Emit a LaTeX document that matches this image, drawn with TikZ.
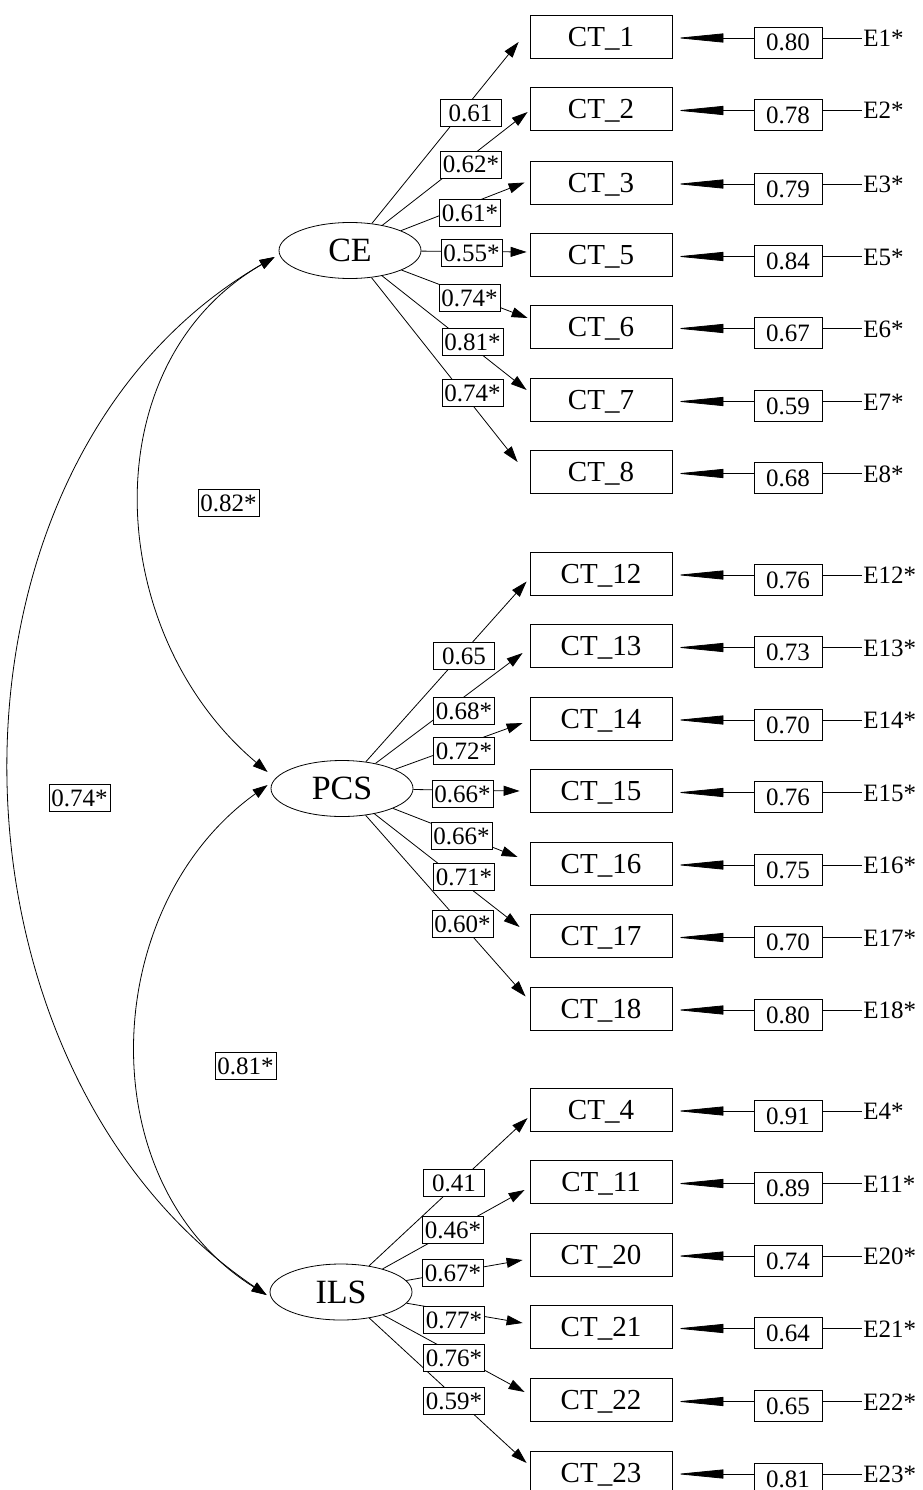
\documentclass[tikz,border=0pt]{standalone}
\usepackage{fontspec}
\setmainfont{Liberation Serif}
\usetikzlibrary{arrows.meta,shapes.geometric,calc}
\begin{document}
\begin{tikzpicture}[x=1pt,y=-1pt,line width=0.8pt,
  lat/.style={draw,ellipse,minimum width=142pt,minimum height=56pt,inner sep=0pt,font=\fontsize{34}{40}\selectfont,text height=22.5pt,text depth=0pt},
  obs/.style={draw,rectangle,minimum width=142pt,minimum height=43pt,inner sep=0pt,font=\fontsize{29}{34}\selectfont,text height=19.2pt,text depth=0pt},
  err/.style={draw,rectangle,minimum width=68pt,minimum height=31pt,inner sep=0pt,font=\fontsize{25}{30}\selectfont,text height=17pt,text depth=0pt},
  coef/.style={draw,fill=white,rectangle,minimum width=61pt,minimum height=27pt,inner sep=1pt,font=\fontsize{25}{30}\selectfont,text height=17pt,text depth=0pt},
  elab/.style={anchor=west,inner sep=1pt,font=\fontsize{25}{30}\selectfont,text height=17pt,text depth=0pt},
  load/.style={-{Triangle[length=16pt,width=10pt]}},
  corr/.style={{Triangle[length=15pt,width=10pt]}-{Triangle[length=15pt,width=10pt]}},
  errarr/.style={-{Triangle[length=47pt,width=9pt]},shorten >=4pt}
]
\useasboundingbox (0,0) rectangle (922,1490);

% latent variables
\node[lat] (CE) at (350,250.5) {CE};
\node[lat] (PCS) at (342,788.5) {PCS};
\node[lat] (ILS) at (341,1292) {ILS};

% observed variables with errors
\foreach \k/\y/\ev in {1/36.5/0.80, 2/109/0.78, 3/182.5/0.79, 5/255/0.84, 6/327/0.67, 7/400/0.59, 8/472/0.68,
  12/573.5/0.76, 13/646/0.73, 14/718.5/0.70, 15/791/0.76, 16/863.5/0.75, 17/936/0.70, 18/1008.5/0.80,
  4/1109.5/0.91, 11/1182/0.89, 20/1254.5/0.74, 21/1327/0.64, 22/1400/0.65, 23/1472.5/0.81}{
  \node[obs] (ct\k) at (601,\y) {CT\_\k};
  \node[err] (e\k) at (788,{\y+6}) {\ev};
  \node[elab] (E\k) at (862,{\y+1.5}) {E\k*};
  \draw[errarr] (e\k.west |- E\k.west) -- (ct\k.east |- E\k.west);
  \draw (e\k.east |- E\k.west) -- (E\k.west);
}

% loadings
\foreach \lat/\k/\dx/\dy in {CE/1/-11/5.5, CE/2/-2/3, CE/3/-5/0, CE/5/-3/-3, CE/6/-2/-9, CE/7/-3/-10, CE/8/-12/-10,
  PCS/12/-3/8, PCS/13/-7/7, PCS/14/-7/4.5, PCS/15/-10/0, PCS/16/-12/-6.5, PCS/17/-10/-9, PCS/18/-4/-12,
  ILS/4/-2/8.5, ILS/11/-5/8, ILS/20/-7/5.5, ILS/21/-7/-4, ILS/22/-5/-8, ILS/23/-3/-9.5}{
  \draw[load] (\lat) -- ($(ct\k.west)+(\dx,\dy)$);
}

% correlations
\coordinate (ceT) at ($(CE.west)+(-4,6.5)$);
\coordinate (pcsA) at ($(PCS.west)+(-3,-16.5)$);
\coordinate (pcsB) at ($(PCS.west)+(-3,-3.5)$);
\coordinate (ilsT) at ($(ILS.west)+(-3,3)$);
\draw[corr] (ceT) .. controls +(-185,107) and +(-164,-138) .. (pcsA);
\draw[corr] (ceT) .. controls +(-355,205) and +(-340,-230) .. (ilsT);
\draw[corr] (pcsB) .. controls +(-170,122) and +(-178,-111) .. (ilsT);

% loading coefficients
\foreach \k/\cv/\lx/\ly in {1/0.61/470.5/113, 2/0.62*/471/164.5, 3/0.61*/470/212.5, 5/0.55*/471.5/253, 6/0.74*/469.5/297.5, 7/0.81*/472.5/341.5, 8/0.74*/472.5/393,
  12/0.65/464/656, 13/0.68*/464/710.5, 14/0.72*/464/751, 15/0.66*/462.5/794, 16/0.66*/461.5/835.5, 17/0.71*/464/876.5, 18/0.60*/462.5/924,
  4/0.41/454/1183, 11/0.46*/453/1230, 20/0.67*/453/1273, 21/0.77*/454/1320, 22/0.76*/454/1358, 23/0.59*/454/1400.5}{
  \node[coef] (c\k) at (\lx,\ly) {\cv};
}

% correlation coefficients
\node[coef] (r1) at (228.5,503) {0.82*};
\node[coef] (r2) at (79.5,797.5) {0.74*};
\node[coef] (r3) at (245.5,1066) {0.81*};
\end{tikzpicture}
\end{document}
